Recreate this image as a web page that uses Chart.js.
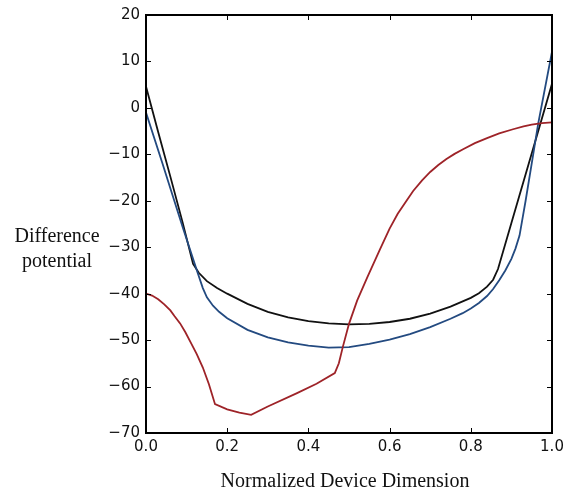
<!DOCTYPE html>
<html>
<head>
<meta charset="utf-8">
<script src="https://cdn.jsdelivr.net/npm/chart.js@4.4.0/dist/chart.umd.min.js"></script>
<style>
  html, body { margin: 0; padding: 0; background: #fff; }
</style>
</head>
<body>
<canvas id="chart" width="570" height="494"></canvas>
<script>
// Black curve
const blackX = [0, 0.03, 0.06, 0.09, 0.116, 0.13, 0.15, 0.175, 0.2, 0.25, 0.3, 0.35, 0.4, 0.45, 0.5, 0.55, 0.6, 0.65, 0.7, 0.75, 0.8, 0.82, 0.84, 0.855, 0.867, 0.9, 0.95, 1.0];
const blackY = [4.6, -5.2, -14.8, -24.6, -33.6, -35.5, -37.3, -38.8, -40.0, -42.2, -43.9, -45.1, -45.9, -46.4, -46.6, -46.5, -46.1, -45.4, -44.3, -42.8, -40.9, -39.9, -38.5, -37.0, -34.7, -24.8, -9.8, 5.2];

// Blue curve
const blueX = [0, 0.04, 0.09, 0.128, 0.14, 0.15, 0.165, 0.18, 0.2, 0.25, 0.3, 0.35, 0.4, 0.45, 0.5, 0.55, 0.6, 0.65, 0.7, 0.75, 0.78, 0.8, 0.82, 0.84, 0.855, 0.87, 0.885, 0.9, 0.91, 0.92, 0.935, 0.95, 0.966, 1.0];
const blueY = [-1.0, -11.8, -25.6, -35.7, -38.8, -40.8, -42.6, -43.9, -45.3, -47.8, -49.4, -50.5, -51.2, -51.6, -51.5, -50.8, -49.9, -48.7, -47.2, -45.4, -44.2, -43.2, -42.0, -40.5, -39.0, -37.1, -35.0, -32.5, -30.3, -27.5, -20.0, -12.0, -3.4, 12.1];

// Red curve
const redX = [0, 0.015, 0.03, 0.045, 0.06, 0.07, 0.084, 0.097, 0.11, 0.125, 0.14, 0.155, 0.17, 0.2, 0.23, 0.259, 0.3, 0.372, 0.42, 0.465, 0.475, 0.485, 0.5, 0.52, 0.545, 0.576, 0.6, 0.62, 0.64, 0.658, 0.68, 0.7, 0.72, 0.74, 0.76, 0.781, 0.81, 0.84, 0.87, 0.904, 0.93, 0.95, 0.975, 1.0];
const redY = [-40.0, -40.4, -41.2, -42.3, -43.6, -44.8, -46.4, -48.3, -50.5, -53.0, -55.9, -59.5, -63.8, -64.9, -65.6, -66.1, -64.3, -61.4, -59.4, -57.1, -55.0, -51.4, -46.5, -41.5, -36.5, -30.5, -26.0, -22.8, -20.2, -17.9, -15.6, -13.8, -12.3, -11.0, -9.9, -8.9, -7.6, -6.5, -5.5, -4.6, -4.0, -3.6, -3.3, -3.1];

const xTicks = [0, 0.2, 0.4, 0.6, 0.8, 1.0];
const yTicks = [20, 10, 0, -10, -20, -30, -40, -50, -60, -70];

const yTitle = ['Difference', 'potential'];
const xTitle = 'Normalized Device Dimension';

function pts(xs, ys) {
    return xs.map((x, i) => ({ x: x, y: ys[i] }));
}

function line(xs, ys, color) {
    return {
        data: pts(xs, ys),
        borderColor: color,
        borderWidth: 1.8,
        pointRadius: 0,
        tension: 0,
        fill: false
    };
}

const frame = {
    id: 'frame',
    afterDraw: chart => {
        const { ctx, chartArea: { left, right, top, bottom } } = chart;
        const xs = chart.scales.x, ys = chart.scales.y;
        ctx.save();
        ctx.strokeStyle = '#000';
        ctx.lineWidth = 2;
        ctx.strokeRect(left, top, right - left, bottom - top);

        // inward ticks on all four sides
        ctx.lineWidth = 1;
        ctx.beginPath();
        xTicks.forEach(v => {
            const px = Math.round(xs.getPixelForValue(v)) + 0.5;
            ctx.moveTo(px, bottom); ctx.lineTo(px, bottom - 5);
            ctx.moveTo(px, top); ctx.lineTo(px, top + 5);
        });
        yTicks.forEach(v => {
            const py = Math.round(ys.getPixelForValue(v)) + 0.5;
            ctx.moveTo(left, py); ctx.lineTo(left + 5, py);
            ctx.moveTo(right, py); ctx.lineTo(right - 5, py);
        });
        ctx.stroke();

        // axis titles
        ctx.fillStyle = '#111';
        ctx.font = '20px "Liberation Serif", "Times New Roman", serif';
        ctx.textAlign = 'center';
        ctx.textBaseline = 'alphabetic';
        ctx.fillText(yTitle[0], 57, 242);
        ctx.fillText(yTitle[1], 57, 267);
        ctx.fillText(xTitle, 345, 487);
        ctx.restore();
    }
};

const tickFont = { family: '"DejaVu Sans", sans-serif', size: 15 };

new Chart(document.getElementById('chart'), {
    type: 'line',
    data: {
        datasets: [
            line(redX, redY, '#9e2328'),
            line(blueX, blueY, '#234a80'),
            line(blackX, blackY, '#111111')
        ]
    },
    options: {
        responsive: false,
        animation: false,
        devicePixelRatio: 1,
        layout: { padding: { top: 13, right: 18, left: 0, bottom: 0 } },
        plugins: { legend: { display: false }, tooltip: { enabled: false } },
        scales: {
            x: {
                type: 'linear',
                min: 0, max: 1,
                afterFit: s => { s.height = 61; },
                afterBuildTicks: s => { s.ticks = xTicks.map(v => ({ value: v })); },
                grid: { display: false, drawTicks: false },
                border: { display: false },
                ticks: {
                    color: '#111', font: tickFont, padding: 5, maxRotation: 0,
                    callback: v => v.toFixed(1)
                }
            },
            y: {
                type: 'linear',
                min: -70, max: 20,
                afterFit: s => { s.width = 146; },
                afterBuildTicks: s => { s.ticks = yTicks.map(v => ({ value: v })); },
                grid: { display: false, drawTicks: false },
                border: { display: false },
                ticks: {
                    color: '#111', font: tickFont, padding: 6,
                    callback: v => v < 0 ? '\u2212' + Math.abs(v) : String(v)
                }
            }
        }
    },
    plugins: [frame]
});
</script>
</body>
</html>
